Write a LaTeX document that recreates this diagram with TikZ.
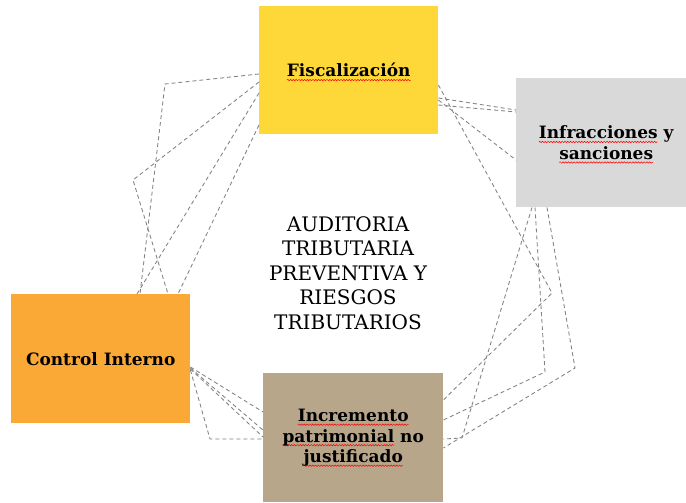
\documentclass[tikz,border=0pt]{standalone}
\usepackage{fontspec}
\setmainfont{DejaVu Serif}
\usetikzlibrary{calc,decorations.pathmorphing}
\definecolor{fiscY}{HTML}{FED838}
\definecolor{infrG}{HTML}{D9D9D9}
\definecolor{ciO}{HTML}{FAA937}
\definecolor{incrT}{HTML}{B8A68B}
\definecolor{connG}{HTML}{828282}
\newsavebox\sqbox
\newcommand\sq[1]{\sbox\sqbox{#1}\rlap{\tikz[overlay,baseline=0pt,x=1pt,y=1pt]\draw[red,line width=0.5pt,decorate,decoration={snake,amplitude=0.7pt,segment length=2.8pt}] (0,-3.2) -- (\the\wd\sqbox,-3.2);}\usebox\sqbox}
\tikzset{
  boxn/.style={anchor=north west, inner sep=0pt, align=center,
    font=\bfseries\fontsize{17}{20.5}\selectfont},
  conn/.style={draw=connG, line width=0.85pt, dash pattern=on 4pt off 3pt}
}
\begin{document}
\begin{tikzpicture}[x=1pt,y=-1pt]
\useasboundingbox (0,0) rectangle (686,503);
\clip (0,0) rectangle (686,503);
\fill[white] (0,0) rectangle (686,503);
\node[boxn, fill=fiscY, minimum width=179pt, minimum height=128pt] (fisc) at (259,6) {\sq{Fiscalización}};
\node[boxn, fill=infrG, minimum width=180pt, minimum height=129pt] (infr) at (516,78) {\sq{Infracciones} y\\\sq{sanciones}};
\node[boxn, fill=ciO, minimum width=179pt, minimum height=129pt] (ci) at (11,294) {Control Interno};
\node[boxn, fill=incrT, minimum width=180pt, minimum height=129pt] (incr) at (263,373) {\sq{Incremento}\\\sq{patrimonial} no\\\sq{justificado}};
\node[align=center, font=\fontsize{20}{24.5}\selectfont] (title) at (348,273) {AUDITORIA\\TRIBUTARIA\\PREVENTIVA Y\\RIESGOS\\TRIBUTARIOS};
% Fiscalizacion -> Control Interno
\draw[conn] ($(fisc.north west)+(0,68)$) -- (165,84) -- ($(ci.north west)+(129,0)$);
\draw[conn] ($(fisc.north west)+(0,76)$) -- (133,180) -- ($(ci.north west)+(157,0)$);
\draw[conn] ($(fisc.north west)+(0,87)$) -- ($(ci.north west)+(126,0)$);
\draw[conn] ($(fisc.north west)+(0,119)$) -- ($(ci.north west)+(167,0)$);
% Fiscalizacion -> Incremento
\draw[conn] ($(fisc.north east)+(0,79)$) -- (552,293) -- ($(incr.north east)+(0,27)$);
% Fiscalizacion -> Infracciones
\draw[conn] ($(fisc.north east)+(0,92)$) -- ($(infr.north west)+(0,32)$);
\draw[conn] ($(fisc.north east)+(0,99)$) -- ($(infr.north west)+(0,34)$);
\draw[conn] ($(fisc.north east)+(0,94)$) -- ($(infr.north west)+(0,82)$);
% Infracciones -> Incremento
\draw[conn] ($(infr.south west)+(16,0)$) -- (462,438) -- ($(incr.north east)+(0,66)$);
\draw[conn] ($(infr.south west)+(19,0)$) -- (545,372) -- ($(incr.north east)+(0,47)$);
\draw[conn] ($(infr.south west)+(31,0)$) -- (575,368) -- ($(incr.north east)+(0,75)$);
% Control Interno -> Incremento
\draw[conn] ($(ci.north east)+(0,73)$) -- ($(incr.north west)+(0,39)$);
\draw[conn] ($(ci.north east)+(0,74)$) -- ($(incr.north west)+(0,57)$);
\draw[conn] ($(ci.north east)+(0,75)$) -- ($(incr.north west)+(0,64)$);
\draw[conn] ($(ci.north east)+(0,76)$) -- (210,439) -- ($(incr.north west)+(0,66)$);
\end{tikzpicture}
\end{document}
